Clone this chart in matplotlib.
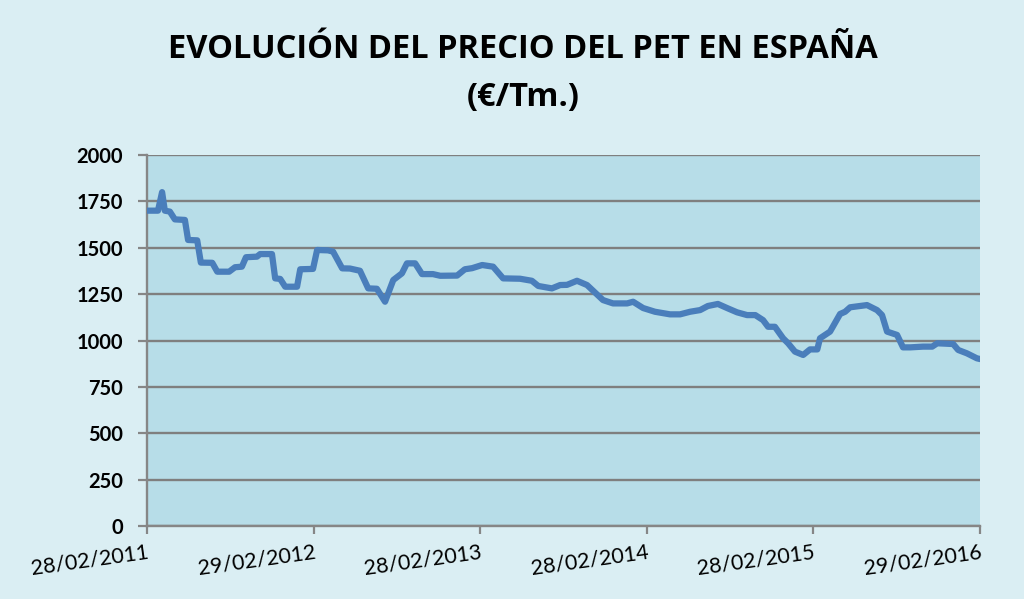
import matplotlib
matplotlib.use("Agg")
import matplotlib.pyplot as plt
import pandas as pd

dates = [
    "2011-02-28", "2011-03-24", "2011-04-02", "2011-04-08", "2011-04-19", "2011-04-30",
    "2011-05-22", "2011-05-29", "2011-06-18", "2011-06-26", "2011-07-21", "2011-08-01",
    "2011-08-27", "2011-09-09", "2011-09-24", "2011-10-03", "2011-10-27", "2011-11-03",
    "2011-11-29", "2011-12-06", "2011-12-17", "2011-12-28", "2012-01-23", "2012-01-30",
    "2012-02-27", "2012-03-07", "2012-03-31", "2012-04-11", "2012-05-01", "2012-05-18",
    "2012-06-09", "2012-06-27", "2012-07-16", "2012-08-03", "2012-08-21", "2012-09-09",
    "2012-09-20", "2012-10-08", "2012-10-23", "2012-11-16", "2012-12-02", "2013-01-08",
    "2013-01-25", "2013-02-10", "2013-03-04", "2013-03-28", "2013-04-19", "2013-05-26",
    "2013-06-21", "2013-07-05", "2013-08-04", "2013-08-22", "2013-09-06", "2013-09-28",
    "2013-10-20", "2013-11-24", "2013-12-16", "2014-01-16", "2014-01-29", "2014-02-20",
    "2014-03-18", "2014-04-20", "2014-05-12", "2014-06-03", "2014-06-25", "2014-07-12",
    "2014-08-03", "2014-08-25", "2014-09-14", "2014-10-06", "2014-10-24", "2014-11-10",
    "2014-11-21", "2014-12-06", "2014-12-24", "2015-01-04", "2015-01-19", "2015-02-06",
    "2015-02-21", "2015-03-09", "2015-03-15", "2015-04-06", "2015-04-28", "2015-05-09",
    "2015-05-20", "2015-06-26", "2015-07-18", "2015-07-29", "2015-08-09", "2015-08-31",
    "2015-09-13", "2015-09-29", "2015-10-27", "2015-11-16", "2015-11-27", "2016-01-01",
    "2016-01-12", "2016-01-31", "2016-02-22", "2016-02-29",
]
precio = [
    1700, 1700, 1800, 1700, 1695, 1653,
    1650, 1542, 1540, 1420, 1419, 1371,
    1371, 1395, 1398, 1449, 1452, 1466,
    1466, 1335, 1332, 1290, 1290, 1384,
    1386, 1488, 1486, 1479, 1389, 1388,
    1376, 1281, 1279, 1209, 1326, 1362,
    1416, 1416, 1358, 1358, 1349, 1350,
    1384, 1390, 1407, 1398, 1335, 1333,
    1322, 1294, 1281, 1299, 1300, 1322,
    1299, 1218, 1200, 1200, 1209, 1175,
    1155, 1141, 1141, 1155, 1164, 1186,
    1197, 1173, 1152, 1137, 1137, 1110,
    1074, 1074, 1012, 985, 940, 922,
    952, 952, 1012, 1048, 1143, 1155,
    1179, 1191, 1164, 1137, 1048, 1030,
    963, 963, 967, 967, 985, 981,
    949, 931, 904, 900,
]
tick_dates = ["2011-02-28", "2012-02-29", "2013-02-28", "2014-02-28", "2015-02-28", "2016-02-29"]
tick_labels = ["28/02/2011", "29/02/2012", "28/02/2013", "28/02/2014", "28/02/2015", "29/02/2016"]
y_ticks = [0, 250, 500, 750, 1000, 1250, 1500, 1750, 2000]
title_1 = "EVOLUCIÓN DEL PRECIO DEL PET EN ESPAÑA"
title_2 = "(€/Tm.)"

x = pd.to_datetime(dates)
tx = pd.to_datetime(tick_dates)

fig = plt.figure(figsize=(10.24, 5.99), dpi=100)
fig.patch.set_facecolor("#daeef3")
ax = fig.add_axes([0.1436, 0.1219, 0.8135, 0.6193])
ax.set_facecolor("#b7dde8")

ax.plot(x, precio, color="#4a7ebb", linewidth=4.5, solid_capstyle="round",
        solid_joinstyle="round", zorder=3)

ax.set_ylim(0, 2000)
ax.set_xlim(tx[0], tx[-1])
ax.set_yticks(y_ticks)
ax.set_yticklabels([str(v) for v in y_ticks], fontsize=14.5, fontweight="bold",
                   family=["Lato", "DejaVu Sans"])
ax.set_xticks(tx)
ax.set_xticklabels(tick_labels, fontsize=15.5, rotation=8, ha="right",
                   rotation_mode="anchor", family=["Lato", "DejaVu Sans"])
ax.grid(axis="y", color="#7f7f7f", linewidth=1.7, zorder=1)
ax.set_axisbelow(True)
for s in ["top", "right"]:
    ax.spines[s].set_visible(False)
for s in ["left", "bottom"]:
    ax.spines[s].set_color("#868686")
    ax.spines[s].set_linewidth(1.7)
ax.tick_params(axis="x", length=6, width=1.6, color="#868686", pad=6)
ax.tick_params(axis="y", length=6.5, width=1.6, color="#868686", pad=11)

fig.text(0.511, 0.918, title_1, ha="center", va="center",
         fontsize=23.5, fontweight="bold", family=["Open Sans", "DejaVu Sans"])
fig.text(0.511, 0.838, title_2, ha="center", va="center",
         fontsize=23.5, fontweight="bold", family=["Open Sans", "DejaVu Sans"])

fig.savefig("out.png", dpi=100, facecolor=fig.get_facecolor())
